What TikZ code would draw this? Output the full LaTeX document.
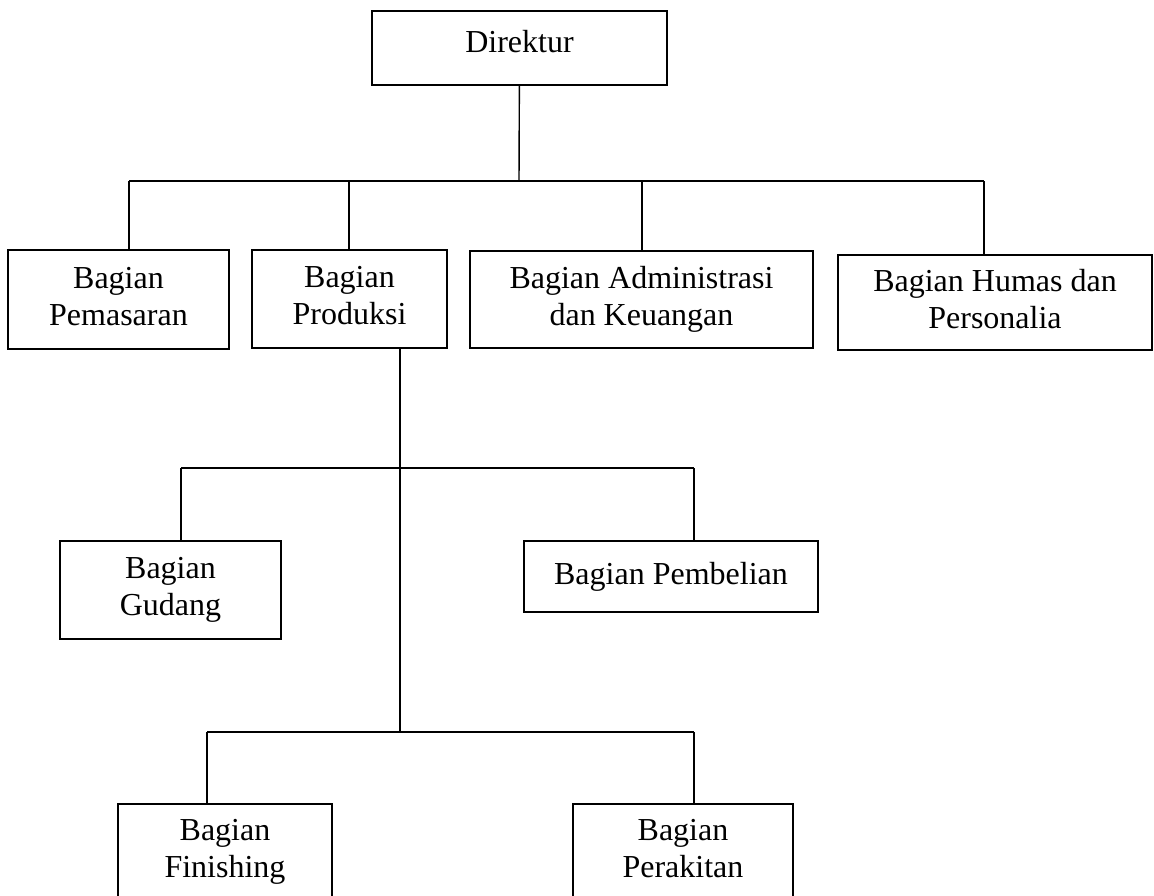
\documentclass[tikz,border=0pt]{standalone}
\usepackage{fontspec}
\setmainfont{Liberation Serif}
\usepackage{tikz}

\tikzset{
	unit/.style={draw, line width=0.9pt, align=center, inner sep=0pt,
		font=\fontsize{16}{18.5}\selectfont,
		execute at end node={\vphantom{g}}},
	link/.style={line width=0.7pt}
}

\begin{document}
\begin{tikzpicture}[x=0.5pt, y=-0.5pt]
		\clip (0,0) rectangle (1154,895);
		\node[unit, minimum width=147.5pt, minimum height=37pt, text depth=7pt] (dir) at (519.5,48) {Direktur};
		
		\node[unit, minimum width=110.5pt, minimum height=49.5pt] (pem) at (118.5,299.5) {Bagian\\Pemasaran};
		\node[unit, minimum width=97.5pt, minimum height=49pt] (prod) at (349.5,299) {Bagian\\Produksi};
		\node[unit, minimum width=171.5pt, minimum height=48.5pt] (adm) at (641.5,299.5) {Bagian Administrasi\\dan Keuangan};
		\node[unit, minimum width=157pt, minimum height=47.5pt] (hum) at (995,302.5) {Bagian Humas dan\\Personalia};
		
		\node[unit, minimum width=110.5pt, minimum height=49pt] (gud) at (170.5,590) {Bagian\\Gudang};
		\node[unit, minimum width=147pt, minimum height=35.5pt] (pemb) at (671,576.5) {Bagian Pembelian};
		
		\node[unit, minimum width=107pt, minimum height=48pt] (fin) at (225,852) {Bagian\\Finishing};
		\node[unit, minimum width=110pt, minimum height=48pt] (per) at (683,852) {Bagian\\Perakitan};
		
		\coordinate (j1) at (519,181);
		\coordinate (b1l) at (129,181);
		\coordinate (b1p) at (349,181);
		\coordinate (b1a) at (642,181);
		\coordinate (b1r) at (984,181);
		
		\coordinate (j2) at (400,468);
		\coordinate (b2l) at (181,468);
		\coordinate (b2r) at (694,468);
		
		\coordinate (j3) at (400,732);
		\coordinate (b3l) at (207,732);
		\coordinate (b3r) at (694,732);
		
		\draw[link] (dir) -- (j1);
		\draw[link] (b1l) -- (b1r);
		\draw[link] (b1l) -- (b1l |- pem.north);
		\draw[link] (b1p) -- (b1p |- prod.north);
		\draw[link] (b1a) -- (b1a |- adm.north);
		\draw[link] (b1r) -- (b1r |- hum.north);
		
		\draw[link] (j2 |- prod.south) -- (j3);
		\draw[link] (b2l) -- (b2r);
		\draw[link] (b2l) -- (b2l |- gud.north);
		\draw[link] (b2r) -- (b2r |- pemb.north);
		
		\draw[link] (b3l) -- (b3r);
		\draw[link] (b3l) -- (b3l |- fin.north);
		\draw[link] (b3r) -- (b3r |- per.north);
\end{tikzpicture}
\end{document}
